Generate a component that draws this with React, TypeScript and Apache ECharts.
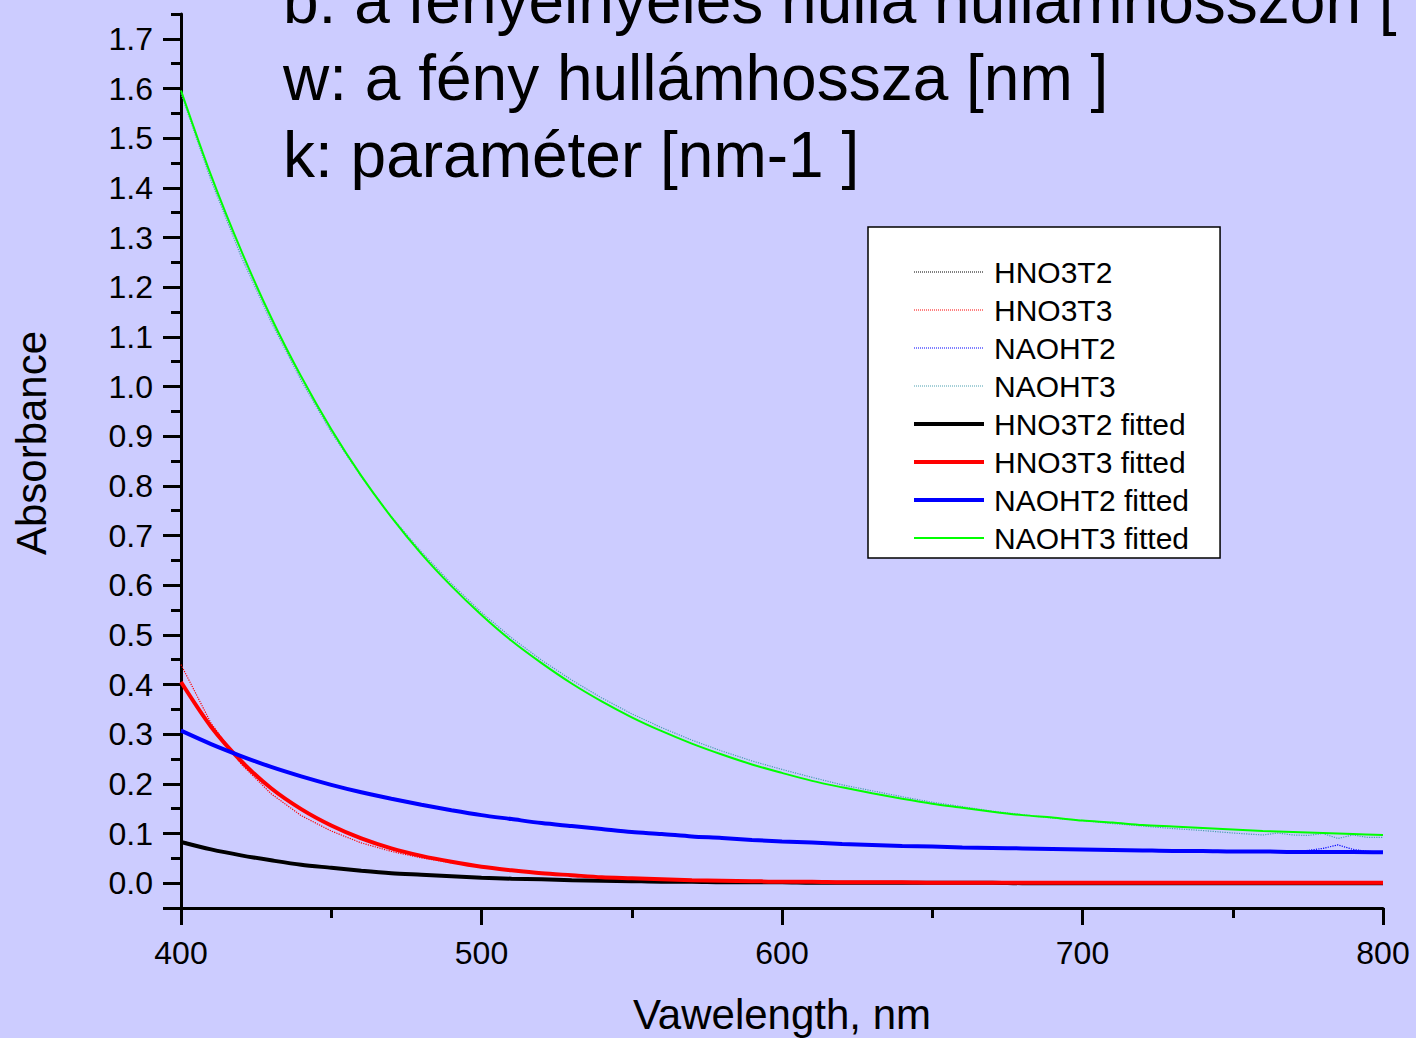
import React, { useEffect, useRef } from "react";
import * as echarts from "echarts";

// ---- data ----
const fitWavelengths = [
  400, 410, 420, 430, 440, 450, 460, 470, 480, 490,
  500, 510, 520, 530, 540, 550, 560, 570, 580, 590,
  600, 610, 620, 630, 640, 650, 660, 670, 680, 690,
  700, 710, 720, 730, 740, 750, 760, 770, 780, 790, 800,
];
const measWavelengths = [
  400, 410, 420, 430, 440, 450, 460, 470, 480, 490,
  500, 510, 520, 530, 540, 550, 560, 570, 580, 590,
  600, 610, 620, 630, 640, 650, 660, 670, 680, 690,
  700, 710, 720, 730, 740, 750, 760,
  765, 770, 775, 780, 785, 790, 795, 800,
];

const hno3t2Meas = [
  0.085, 0.069, 0.056, 0.045, 0.037, 0.030, 0.025, 0.020, 0.017, 0.014,
  0.011, 0.009, 0.008, 0.006, 0.005, 0.004, 0.003, 0.003, 0.002, 0.002,
  0.002, 0.001, 0.001, 0.001, 0.001, 0.001, 0.001, 0.000, 0.000, 0.000,
  0.000, 0.000, 0.000, 0.000, 0.000, 0.000, 0.000,
  0.000, 0.000, 0.001, 0.000, 0.000, 0.001, 0.000, 0.000,
];
const hno3t3Meas = [
  0.440, 0.322, 0.240, 0.180, 0.136, 0.105, 0.081, 0.064, 0.051, 0.041,
  0.034, 0.027, 0.021, 0.016, 0.012, 0.010, 0.008, 0.006, 0.005, 0.004,
  0.003, 0.003, 0.002, 0.002, 0.002, 0.001, 0.001, 0.001, 0.001, 0.001,
  0.001, 0.001, 0.001, 0.000, 0.000, 0.001, 0.000,
  0.000, 0.001, 0.000, 0.000, 0.001, 0.000, 0.001, 0.000,
];
const naoht2Meas = [
  0.309, 0.281, 0.256, 0.234, 0.215, 0.198, 0.183, 0.170, 0.158, 0.147,
  0.137, 0.129, 0.121, 0.115, 0.109, 0.103, 0.099, 0.094, 0.091, 0.087,
  0.084, 0.082, 0.079, 0.077, 0.075, 0.074, 0.072, 0.071, 0.070, 0.069,
  0.068, 0.067, 0.066, 0.065, 0.065, 0.064, 0.064,
  0.064, 0.063, 0.066, 0.070, 0.077, 0.068, 0.064, 0.063,
];
const naoht3Meas = [
  1.590, 1.415, 1.262, 1.130, 1.012, 0.908, 0.818, 0.738, 0.667, 0.603,
  0.545, 0.494, 0.449, 0.409, 0.373, 0.341, 0.313, 0.288, 0.266, 0.246,
  0.229, 0.213, 0.198, 0.186, 0.174, 0.163, 0.154, 0.145, 0.138, 0.131,
  0.126, 0.120, 0.115, 0.110, 0.106, 0.101, 0.097,
  0.101, 0.097, 0.096, 0.100, 0.090, 0.097, 0.092, 0.092,
];

const hno3t2Fit = [
  0.083, 0.068, 0.056, 0.046, 0.037, 0.031, 0.025, 0.020, 0.017, 0.014,
  0.011, 0.009, 0.008, 0.006, 0.005, 0.004, 0.003, 0.003, 0.002, 0.002,
  0.002, 0.001, 0.001, 0.001, 0.001, 0.001, 0.001, 0.001, 0.000, 0.000,
  0.000, 0.000, 0.000, 0.000, 0.000, 0.000, 0.000, 0.000, 0.000, 0.000, 0.000,
];
const hno3t3Fit = [
  0.405, 0.315, 0.246, 0.191, 0.149, 0.116, 0.090, 0.070, 0.055, 0.043,
  0.033, 0.026, 0.020, 0.016, 0.012, 0.010, 0.008, 0.006, 0.005, 0.004,
  0.003, 0.003, 0.002, 0.002, 0.002, 0.001, 0.001, 0.001, 0.001, 0.001,
  0.001, 0.001, 0.001, 0.001, 0.001, 0.001, 0.001, 0.001, 0.001, 0.001, 0.001,
];
const naoht2Fit = [
  0.307, 0.280, 0.256, 0.234, 0.215, 0.198, 0.183, 0.170, 0.158, 0.147,
  0.137, 0.129, 0.121, 0.115, 0.109, 0.103, 0.099, 0.094, 0.091, 0.087,
  0.084, 0.082, 0.079, 0.077, 0.075, 0.074, 0.072, 0.071, 0.070, 0.069,
  0.068, 0.067, 0.066, 0.065, 0.065, 0.064, 0.064, 0.063, 0.063, 0.063, 0.062,
];
const naoht3Fit = [
  1.596, 1.425, 1.274, 1.139, 1.020, 0.914, 0.820, 0.737, 0.663, 0.598,
  0.540, 0.488, 0.443, 0.402, 0.366, 0.334, 0.306, 0.281, 0.259, 0.239,
  0.222, 0.206, 0.193, 0.181, 0.170, 0.160, 0.152, 0.144, 0.137, 0.132,
  0.126, 0.122, 0.117, 0.114, 0.111, 0.108, 0.105, 0.103, 0.101, 0.099, 0.097,
];

const yMajorTicks = [-0.05, 0, 0.1, 0.2, 0.3, 0.4, 0.5, 0.6, 0.7, 0.8, 0.9, 1.0, 1.1, 1.2, 1.3, 1.4, 1.5, 1.6, 1.7];
const yLabelValues = [0, 0.1, 0.2, 0.3, 0.4, 0.5, 0.6, 0.7, 0.8, 0.9, 1.0, 1.1, 1.2, 1.3, 1.4, 1.5, 1.6, 1.7];
const yMinorTicks = [0.05, 0.15, 0.25, 0.35, 0.45, 0.55, 0.65, 0.75, 0.85, 0.95, 1.05, 1.15, 1.25, 1.35, 1.45, 1.55, 1.65, 1.75];

const overlayLines = [
  "b: a fényelnyelés nulla hullámhosszon [",
  "w: a fény hullámhossza [nm ]",
  "k: paraméter [nm-1 ]",
];
const yAxisTitle = "Absorbance";
const xAxisTitle = "Vawelength, nm";

const FONT = "'Liberation Sans', Arial, Helvetica, sans-serif";

function pairs(xs: number[], ys: number[]) {
  return xs.map((x, i) => [x, ys[i]]);
}

type SeriesDef = { name: string; ys: number[]; color: string; width: number; dotted: boolean };

const seriesDefs: SeriesDef[] = [
  { name: "HNO3T2", ys: hno3t2Meas, color: "#000000", width: 1.2, dotted: true },
  { name: "HNO3T3", ys: hno3t3Meas, color: "#FF0000", width: 1.2, dotted: true },
  { name: "NAOHT2", ys: naoht2Meas, color: "#0000FF", width: 1.2, dotted: true },
  { name: "NAOHT3", ys: naoht3Meas, color: "#4A9FB0", width: 1.2, dotted: true },
  { name: "HNO3T2 fitted", ys: hno3t2Fit, color: "#000000", width: 4, dotted: false },
  { name: "HNO3T3 fitted", ys: hno3t3Fit, color: "#FF0000", width: 4, dotted: false },
  { name: "NAOHT2 fitted", ys: naoht2Fit, color: "#0000FF", width: 4, dotted: false },
  { name: "NAOHT3 fitted", ys: naoht3Fit, color: "#00FF00", width: 2, dotted: false },
];

export default function App() {
  const ref = useRef<HTMLDivElement>(null);
  useEffect(() => {
    document.body.style.margin = "0";
    const chart = echarts.init(ref.current!, undefined, { renderer: "svg" });

    chart.setOption({
      animation: false,
      backgroundColor: "#CCCCFF",
      textStyle: { fontFamily: FONT },
      grid: {
        left: 181,
        right: 33,
        top: 14,
        bottom: 130,
        containLabel: false,
        outerBoundsMode: "none",
      },
      legend: {
        orient: "vertical",
        left: 868,
        top: 227,
        padding: [30, 31, 5, 44],
        backgroundColor: "#FFFFFF",
        borderColor: "#000000",
        borderWidth: 1.5,
        borderRadius: 0,
        itemWidth: 70,
        itemHeight: 14,
        itemGap: 8,
        itemStyle: { opacity: 0 },
        textStyle: { fontSize: 30, color: "#000", fontFamily: FONT, lineHeight: 30, padding: [0, 0, 0, 5] },
        data: seriesDefs.map((s) => ({
          name: s.name,
          itemStyle: { opacity: 0 },
          lineStyle: { color: s.color, width: s.dotted ? 1 : s.width, type: s.dotted ? "dotted" : "solid" },
        })),
      },
      xAxis: {
        type: "value",
        min: 400,
        max: 800,
        interval: 100,
        name: xAxisTitle,
        nameLocation: "middle",
        nameGap: 85,
        nameTextStyle: { fontSize: 42, color: "#000", fontFamily: FONT },
        axisLine: { show: true, onZero: false, lineStyle: { color: "#000", width: 3 } },
        axisTick: { show: true, inside: false, length: 17, lineStyle: { color: "#000", width: 3 } },
        minorTick: { show: true, splitNumber: 2, length: 10, lineStyle: { color: "#000", width: 3 } },
        axisLabel: { fontSize: 32, color: "#000", margin: 29, fontFamily: FONT },
        splitLine: { show: false },
        minorSplitLine: { show: false },
      },
      yAxis: [
        {
          type: "value",
          min: -0.05,
          max: 1.75,
          axisLine: { show: true, onZero: false, lineStyle: { color: "#000", width: 3 } },
          axisTick: {
            show: true,
            inside: false,
            length: 18,
            customValues: yMajorTicks,
            lineStyle: { color: "#000", width: 3 },
          },
          axisLabel: {
            fontSize: 32,
            color: "#000",
            margin: 28,
            fontFamily: FONT,
            customValues: yLabelValues,
            formatter: (v: number) => v.toFixed(1),
          },
          splitLine: { show: false },
        },
        {
          type: "value",
          min: -0.05,
          max: 1.75,
          position: "left",
          axisLine: { show: false },
          axisTick: {
            show: true,
            inside: false,
            length: 10,
            customValues: yMinorTicks,
            lineStyle: { color: "#000", width: 3 },
          },
          axisLabel: { show: false },
          splitLine: { show: false },
        },
      ],
      graphic: [
        ...overlayLines.map((t, i) => ({
          type: "text",
          left: 283,
          top: -31 + i * 77,
          z: 100,
          style: { text: t, fontSize: 64, fill: "#000", fontFamily: FONT },
        })),
        {
          type: "text",
          x: 31,
          y: 443,
          rotation: Math.PI / 2,
          z: 100,
          style: {
            text: yAxisTitle,
            fontSize: 42,
            fill: "#000",
            fontFamily: FONT,
            align: "center",
            verticalAlign: "middle",
          },
        },
      ],
      series: seriesDefs.map((s) => ({
        name: s.name,
        type: "line",
        data: pairs(s.dotted ? measWavelengths : fitWavelengths, s.ys),
        symbol: "none",
        smooth: s.dotted ? false : 0.3,
        lineStyle: { color: s.color, width: s.width, type: s.dotted ? "dotted" : "solid" },
        itemStyle: { color: s.color },
        z: s.dotted ? 2 : 3,
      })),
    });
    return () => chart.dispose();
  }, []);
  return <div ref={ref} style={{ width: 1416, height: 1038 }} />;
}
